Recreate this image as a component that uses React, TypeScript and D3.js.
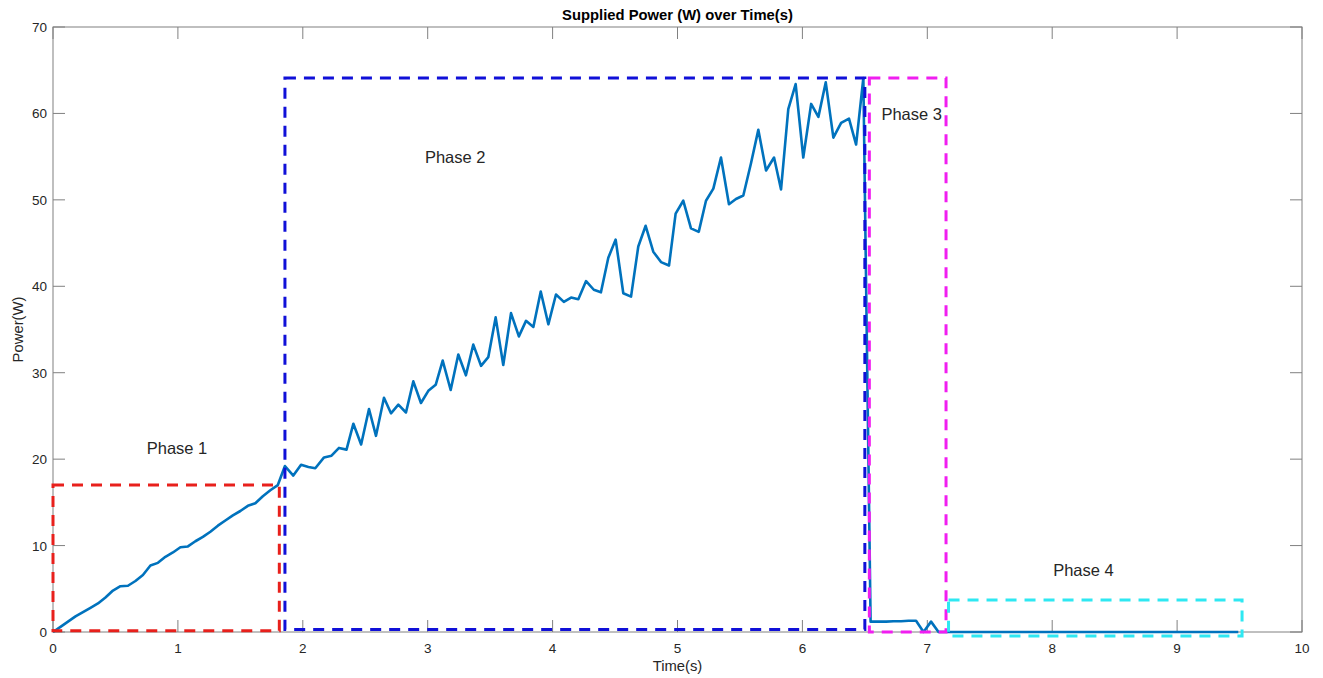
import React from 'react';
import * as d3 from 'd3';

const timeS: number[] = [
  0, 0.06, 0.12, 0.18, 0.24, 0.30, 0.36, 0.42, 0.48, 0.54, 0.60, 0.66, 0.72, 0.78, 0.84, 0.90,
  0.96, 1.02, 1.08, 1.14, 1.20, 1.26, 1.32, 1.38, 1.44, 1.50, 1.56, 1.62, 1.68, 1.74, 1.80,
  1.857, 1.924, 1.986, 2.045, 2.10, 2.17, 2.23, 2.29, 2.35, 2.405, 2.467, 2.53, 2.586, 2.65,
  2.706, 2.765, 2.826, 2.885, 2.946, 3.005, 3.064, 3.12, 3.184, 3.245, 3.306, 3.365, 3.427,
  3.485, 3.544, 3.605, 3.667, 3.73, 3.787, 3.846, 3.905, 3.966, 4.027, 4.09, 4.148, 4.206,
  4.268, 4.33, 4.387, 4.446, 4.505, 4.566, 4.628, 4.686, 4.745, 4.806, 4.868, 4.932, 4.985,
  5.046, 5.108, 5.17, 5.228, 5.287, 5.348, 5.412, 5.468, 5.527, 5.588, 5.647, 5.709, 5.773,
  5.829, 5.887, 5.946, 6.007, 6.07, 6.128, 6.187, 6.248, 6.31, 6.373, 6.43, 6.488,
  6.546, 6.61, 6.67, 6.73, 6.79, 6.85, 6.91, 6.97, 7.03, 7.09,
  7.15, 7.6, 8.0, 8.5, 9.0, 9.49,
];

const powerW: number[] = [
  0, 0.6, 1.2, 1.8, 2.3, 2.8, 3.3, 4.0, 4.8, 5.3, 5.35, 5.9, 6.6, 7.7, 8.0, 8.7,
  9.2, 9.8, 9.9, 10.5, 11.0, 11.6, 12.3, 12.9, 13.5, 14.0, 14.6, 14.9, 15.7, 16.4, 17.0,
  19.2, 18.1, 19.35, 19.1, 18.95, 20.2, 20.4, 21.3, 21.1, 24.1, 21.7, 25.8, 22.7, 27.1,
  25.3, 26.3, 25.4, 29.0, 26.5, 27.9, 28.6, 31.4, 28.0, 32.1, 29.7, 33.25, 30.8,
  31.8, 36.4, 30.9, 36.9, 34.2, 36.0, 35.3, 39.4, 35.6, 39.05, 38.2, 38.7, 38.5,
  40.6, 39.6, 39.3, 43.3, 45.4, 39.2, 38.8, 44.6, 47.0, 44.0, 42.8, 42.4, 48.4,
  49.9, 46.7, 46.3, 49.9, 51.3, 54.9, 49.5, 50.1, 50.5, 54.2, 58.1, 53.4, 54.9,
  51.2, 60.5, 63.4, 54.9, 61.1, 59.6, 63.6, 57.2, 58.9, 59.4, 56.4, 64.1,
  1.2, 1.2, 1.2, 1.25, 1.25, 1.3, 1.3, 0.0, 1.2, 0.0,
  0, 0, 0, 0, 0, 0,
];

const phaseLabels: string[] = ['Phase 1', 'Phase 2', 'Phase 3', 'Phase 4'];
const phaseColors: string[] = ['#e8201c', '#1010d8', '#f01ef0', '#2ee8f2'];
const phaseX0: number[] = [0, 1.857, 6.536, 7.17];
const phaseX1: number[] = [1.812, 6.5, 7.15, 9.52];
const phaseY0: number[] = [0.15, 0.3, 0.0, -0.45];
const phaseY1: number[] = [17.0, 64.1, 64.1, 3.7];
const labelT: number[] = [0.993, 3.22, 6.875, 8.25];
const labelP: number[] = [21.3, 55.0, 59.9, 7.2];

const xTicks: number[] = [0, 1, 2, 3, 4, 5, 6, 7, 8, 9, 10];
const yTicks: number[] = [0, 10, 20, 30, 40, 50, 60, 70];

const titleText = 'Supplied Power (W) over Time(s)';
const xLabelText = 'Time(s)';
const yLabelText = 'Power(W)';

const W = 1323;
const H = 678;
const left = 53;
const right = 1302;
const top = 27;
const bottom = 632;
const FONT = '"Liberation Sans", Arial, Helvetica, sans-serif';
const AX = '#808080';
const TXT = '#262626';

export default function App() {
  const x = d3.scaleLinear().domain([0, 10]).range([left, right]);
  const y = d3.scaleLinear().domain([0, 70]).range([bottom, top]);
  const pts: [number, number][] = timeS.map((t, i) => [t, powerW[i]]);
  const line = d3
    .line<[number, number]>()
    .x((d) => x(d[0]))
    .y((d) => y(d[1]));
  const tl = 12;

  return (
    <svg
      width={W}
      height={H}
      style={{ position: 'absolute', left: 0, top: 0, display: 'block', background: '#fff' }}
      fontFamily={FONT}
    >
      <rect x={0} y={0} width={W} height={H} fill="#fff" />
      {/* box */}
      <rect x={left} y={top} width={right - left} height={bottom - top} fill="none" stroke={AX} strokeWidth={1} />
      {xTicks.map((t) => (
        <g key={'xt' + t}>
          <line x1={x(t)} x2={x(t)} y1={bottom} y2={bottom - tl} stroke={AX} />
          <line x1={x(t)} x2={x(t)} y1={top} y2={top + tl} stroke={AX} />
          <text x={x(t)} y={bottom + 21} textAnchor="middle" fontSize={13.5} fill={TXT}>
            {t}
          </text>
        </g>
      ))}
      {yTicks.map((v) => (
        <g key={'yt' + v}>
          <line x1={left} x2={left + tl} y1={y(v)} y2={y(v)} stroke={AX} />
          <line x1={right} x2={right - tl} y1={y(v)} y2={y(v)} stroke={AX} />
          <text x={left - 6} y={y(v) + 5} textAnchor="end" fontSize={13.5} fill={TXT}>
            {v}
          </text>
        </g>
      ))}
      <path d={line(pts) || ''} fill="none" stroke="#0072BD" strokeWidth={2.6} strokeLinejoin="round" />
      {phaseLabels.map((lab, i) => (
        <g key={lab}>
          <rect
            x={x(phaseX0[i])}
            y={y(phaseY1[i])}
            width={x(phaseX1[i]) - x(phaseX0[i])}
            height={y(phaseY0[i]) - y(phaseY1[i])}
            fill="none"
            stroke={phaseColors[i]}
            strokeWidth={3}
            strokeDasharray="11,8"
          />
          <text x={x(labelT[i])} y={y(labelP[i]) + 6} textAnchor="middle" fontSize={16.5} fill={TXT}>
            {lab}
          </text>
        </g>
      ))}
      <text x={(left + right) / 2} y={20} textAnchor="middle" fontSize={14.8} fontWeight="bold" fill="#000">
        {titleText}
      </text>
      <text x={(left + right) / 2} y={671} textAnchor="middle" fontSize={14.8} fill={TXT}>
        {xLabelText}
      </text>
      <text
        transform={`translate(23, ${(top + bottom) / 2}) rotate(-90)`}
        textAnchor="middle"
        fontSize={14.8}
        fill={TXT}
      >
        {yLabelText}
      </text>
    </svg>
  );
}
